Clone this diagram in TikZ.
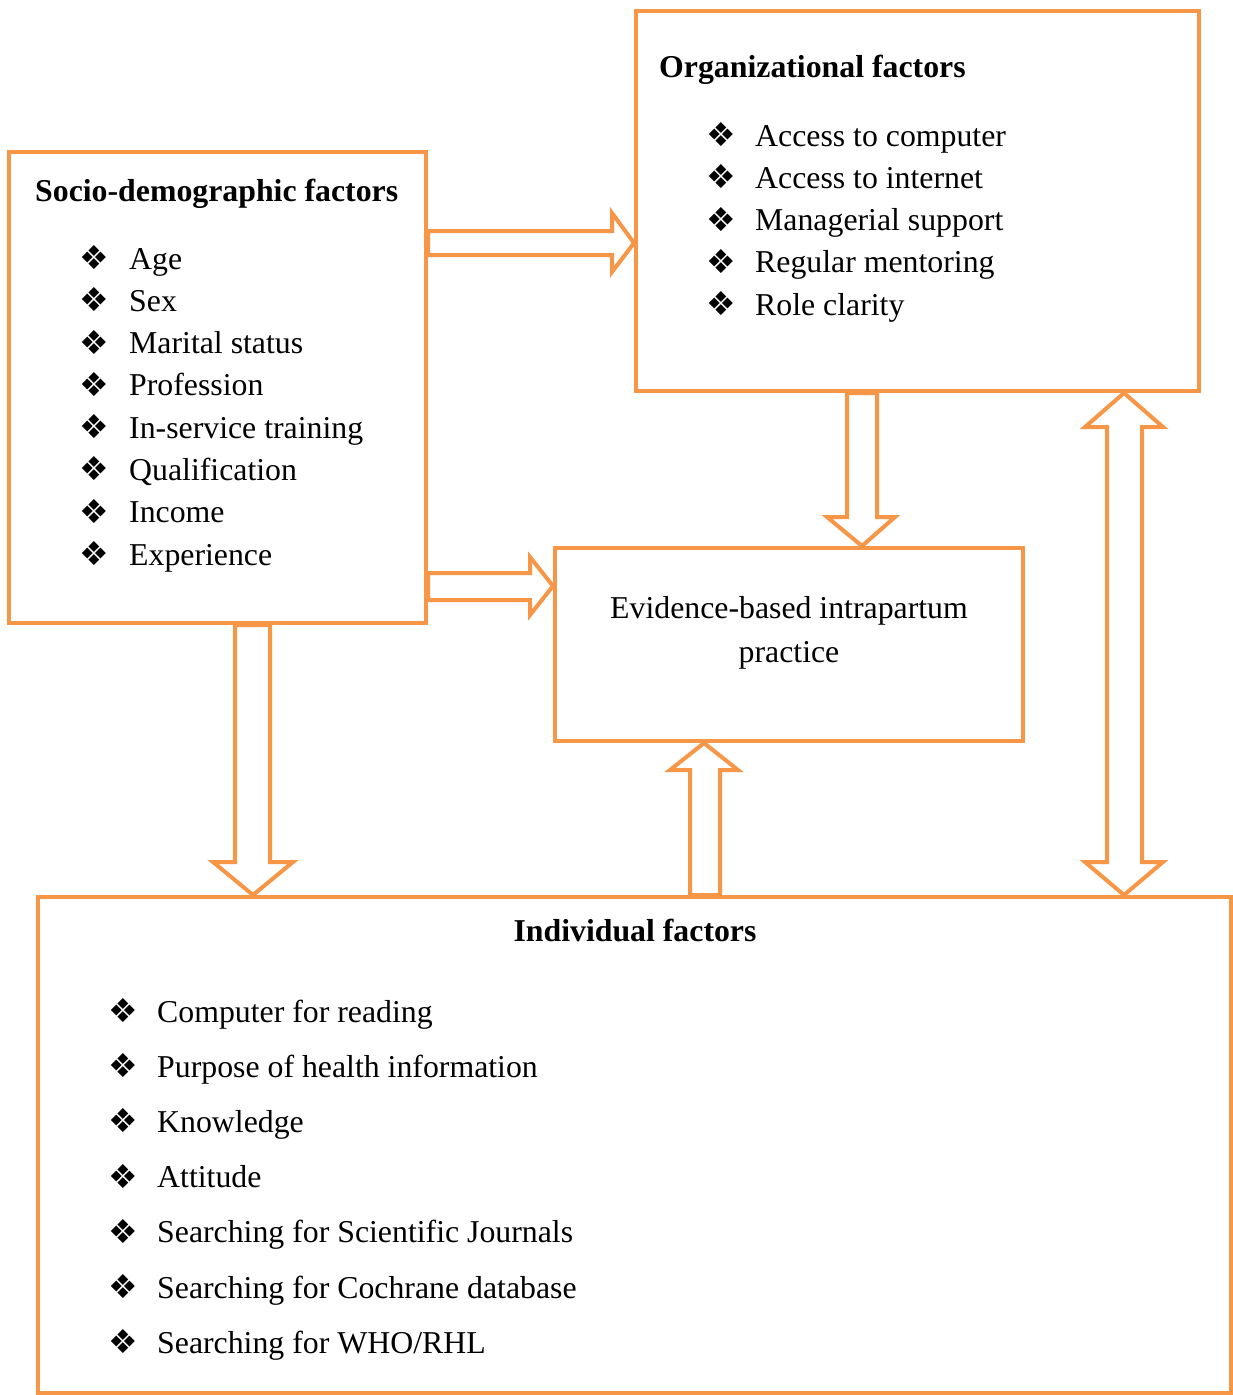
\documentclass[tikz,border=0pt]{standalone}
\usepackage{fontspec}
\setmainfont{Liberation Serif}
\newfontfamily\dingfont{DejaVu Sans}
\definecolor{boxorange}{RGB}{247,150,70}
\begin{document}
\begin{tikzpicture}[x=1pt,y=-1pt,
  box/.style={draw=boxorange,line width=4pt,inner sep=0pt,minimum width=#1},
  blk/.style={draw=boxorange,line width=4pt,fill=white,line join=miter},
  itm/.style={anchor=base west,inner sep=0pt,font=\fontsize{31.8}{38}\selectfont},
  ttl/.style={anchor=base west,inner sep=0pt,font=\fontsize{31.8}{38}\selectfont\bfseries},
  bul/.style={anchor=center,inner sep=0pt,font=\dingfont\fontsize{33}{38}\selectfont}]
\useasboundingbox (0,0) rectangle (1233,1395);
% boxes
\node[box=417pt,minimum height=471pt] (socio) at (217.5,387.5) {};
\node[box=563pt,minimum height=380pt] (org) at (917.5,201) {};
\node[box=468pt,minimum height=193pt] (ebp) at (789,644.5) {};
\node[box=1193pt,minimum height=496pt] (ind) at (634.5,1145) {};
% block arrows
\draw[blk] (socio.east |- 0,231) -- (612,231) -- (612,213) -- (org.west |- 0,243) -- (612,272) -- (612,255) -- (socio.east |- 0,255) -- cycle;
\draw[blk] (socio.east |- 0,573) -- (530,573) -- (530,557) -- (ebp.west |- 0,586) -- (530,615) -- (530,600) -- (socio.east |- 0,600) -- cycle;
\draw[blk] (847,0 |- org.south) -- (847,517) -- (827,517) -- (862,0 |- ebp.north) -- (895,517) -- (877,517) -- (877,0 |- org.south) -- cycle;
\draw[blk] (1124,0 |- org.south) -- (1163,427) -- (1142,427) -- (1142,862) -- (1163,862) -- (1124,0 |- ind.north) -- (1085,862) -- (1107,862) -- (1107,427) -- (1085,427) -- cycle;
\draw[blk] (235,0 |- socio.south) -- (235,862) -- (213,862) -- (253,0 |- ind.north) -- (293,862) -- (270,862) -- (270,0 |- socio.south) -- cycle;
\draw[blk] (690,0 |- ind.north) -- (690,770) -- (670,770) -- (704,0 |- ebp.south) -- (738,770) -- (720,770) -- (720,0 |- ind.north) -- cycle;
% socio text
\node[ttl] (st) at (35,201) {Socio-demographic factors};
\foreach \i [count=\k from 0] in {Age,Sex,Marital status,Profession,In-service training,Qualification,Income,Experience}{
  \node[bul] (sb\k) at (94,{269+42.3*\k-11.5}) {❖};
  \node[itm] (s\k) at (129,{269+42.3*\k}) {\i};
}
% org text
\node[ttl] (ot) at (659,77) {Organizational factors};
\foreach \i [count=\k from 0] in {Access to computer,Access to internet,Managerial support,Regular mentoring,Role clarity}{
  \node[bul] (ob\k) at (721,{146+42.3*\k-11.5}) {❖};
  \node[itm] (o\k) at (755,{146+42.3*\k}) {\i};
}
% evidence text
\node[itm,anchor=base] (e1) at (789,618) {Evidence-based intrapartum};
\node[itm,anchor=base] (e2) at (789,662) {practice};
% individual text
\node[ttl,anchor=base] (it) at (635,941) {Individual factors};
\foreach \i [count=\k from 0] in {Computer for reading,Purpose of health information,Knowledge,Attitude,Searching for Scientific Journals,Searching for Cochrane database,Searching for WHO/RHL}{
  \node[bul] (ib\k) at (123,{1022+55.2*\k-11.5}) {❖};
  \node[itm] (i\k) at (157,{1022+55.2*\k}) {\i};
}
\end{tikzpicture}
\end{document}
